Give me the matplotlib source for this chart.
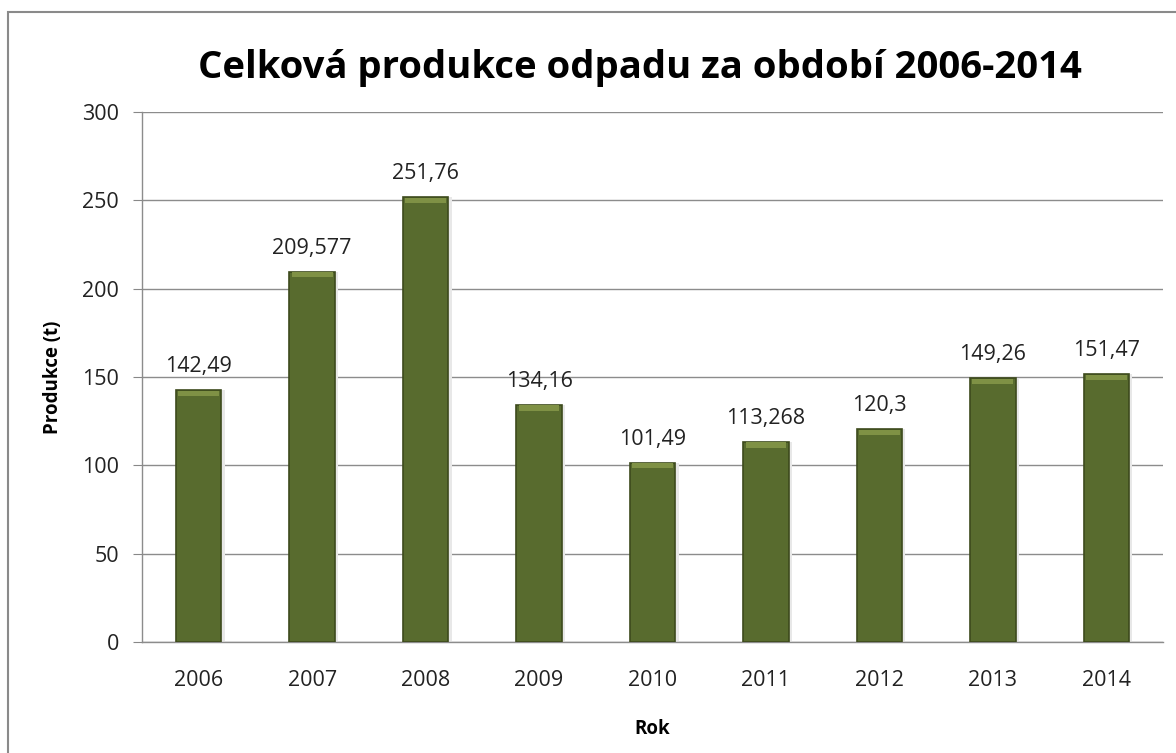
import numpy as np
import matplotlib.pyplot as plt
from matplotlib.patches import Rectangle

# Data
roky = ['2006', '2007', '2008', '2009', '2010', '2011', '2012', '2013', '2014']
produkce = [142.49, 209.577, 251.76, 134.16, 101.49, 113.268, 120.3, 149.26, 151.47]
popisky = ['142,49', '209,577', '251,76', '134,16', '101,49', '113,268', '120,3', '149,26', '151,47']

plt.rcParams['font.family'] = ['Open Sans', 'DejaVu Sans']

fig = plt.figure(figsize=(11.76, 7.53), dpi=100)
ax = fig.add_axes([142/1176, 1 - 642/753, (1163-142)/1176, (642-112)/753])

x = np.arange(len(roky))
sirka = 0.4

# Stin vpravo od sloupcu
ax.bar(x + 0.03, produkce, width=sirka, color='#e8e8e8', zorder=2)
# Hlavni sloupce
ax.bar(x, produkce, width=sirka, color='#586b2e', edgecolor='#3d4a1c', linewidth=1.2, zorder=3)
# Zkoseni nahore
ax.bar(x, [3.0] * len(x), bottom=np.array(produkce) - 3.2, width=sirka * 0.9,
       color='#7f9145', linewidth=0, zorder=4)

for xi, v, t in zip(x, produkce, popisky):
    ax.annotate(t, (xi, v), xytext=(0, 17), textcoords='offset points',
                ha='center', va='center', fontsize=15.5, color='#222222')

ax.set_xlim(-0.5, len(roky) - 0.5)
ax.set_ylim(0, 300)
ax.set_yticks(range(0, 301, 50))
ax.set_xticks(x)
ax.set_xticklabels(roky)
ax.tick_params(axis='x', length=0, pad=20, labelsize=15.5, colors='#222222')
ax.tick_params(axis='y', length=6.5, pad=10, labelsize=15.5, colors='#222222', color='#888888', direction='out')
ax.yaxis.grid(True, color='#8c8c8c', linewidth=1)
ax.set_axisbelow(True)
for s in ['top', 'right']:
    ax.spines[s].set_visible(False)
for s in ['left', 'bottom']:
    ax.spines[s].set_color('#8c8c8c')
    ax.spines[s].set_linewidth(1)

ax.set_xlabel('Rok', fontsize=13.5, fontweight='bold', labelpad=20)
ax.set_ylabel('Produkce (t)', fontsize=13.5, fontweight='bold', labelpad=14)

fig.text(640/1176, 1 - 68/753, 'Celková produkce odpadu za období 2006-2014',
         ha='center', va='center', fontsize=27.5, fontweight='bold')

# Ramecek grafu
fig.patches.append(Rectangle((8/1176, -0.1), 1.2, 1 - 12/753 + 0.1, transform=fig.transFigure,
                             fill=False, edgecolor='#8a8a8a', linewidth=1.5))

fig.savefig('out.png', dpi=100)
